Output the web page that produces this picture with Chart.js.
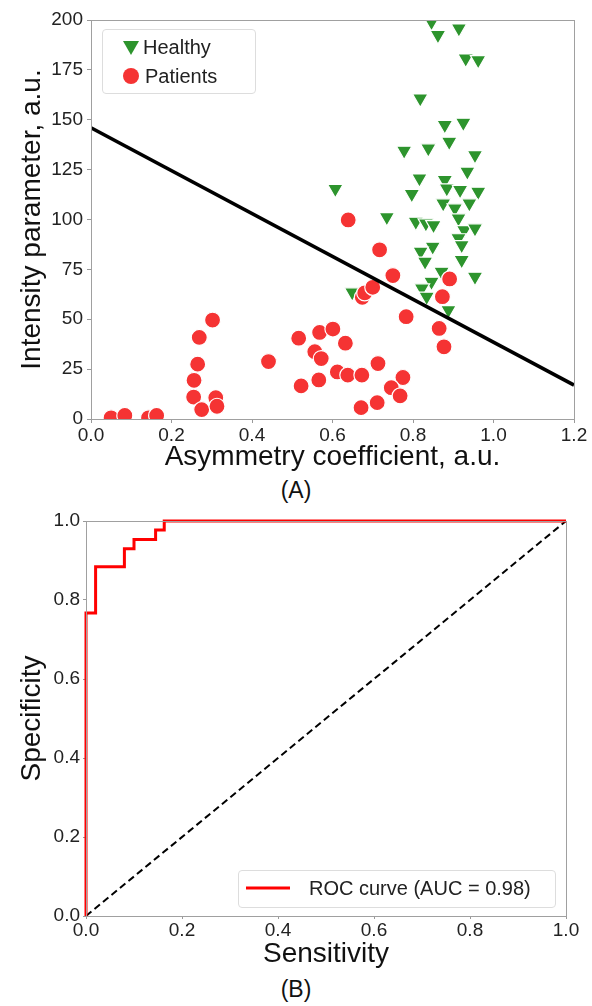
<!DOCTYPE html>
<html>
<head>
<meta charset="utf-8">
<script src="https://cdn.jsdelivr.net/npm/chart.js@4.4.0/dist/chart.umd.min.js"></script>
<style>
body { margin: 0; background: #fff; font-family: "Liberation Sans", Arial, sans-serif; }
#wrap { position: relative; width: 592px; height: 1006px; overflow: hidden; }
canvas { position: absolute; left: 0; }
.cap { position: absolute; left: 0; width: 592px; text-align: center; font-size: 23px; line-height: 28px; color: #111; }
.legend { position: absolute; border: 1px solid #ddd; border-radius: 4px; background: rgba(255,255,255,0.85); font-size: 20px; color: #222; }
.legend span { position: absolute; white-space: nowrap; line-height: 24px; }
.legend svg { position: absolute; }
</style>
</head>
<body>
<div id="wrap">
  <canvas id="scatterCanvas" width="592" height="474" style="top:0"></canvas>
  <div class="cap" style="top:476px">(A)</div>
  <canvas id="rocCanvas" width="592" height="471" style="top:500px"></canvas>
  <div class="cap" style="top:975px">(B)</div>

  <div class="legend" style="left:102px;top:29px;width:152px;height:63px">
    <svg width="18" height="16" style="left:19px;top:10px"><polygon points="1,1 17,1 9,15" fill="#2d942d"/></svg>
    <span style="left:40px;top:5px">Healthy</span>
    <svg width="18" height="18" style="left:19px;top:37px"><circle cx="9" cy="9" r="8" fill="#f53333"/></svg>
    <span style="left:42px;top:34px">Patients</span>
  </div>

  <div class="legend" style="left:238px;top:870px;width:316px;height:36px">
    <svg width="44" height="6" style="left:7px;top:14px"><line x1="0" y1="3" x2="44" y2="3" stroke="#ff0000" stroke-width="3"/></svg>
    <span style="left:70px;top:5px">ROC curve (AUC = 0.98)</span>
  </div>
</div>

<script>
// (A) scatter: asymmetry coefficient vs intensity parameter
const healthy = [
  [0.607, 115.4], [0.649, 63.5], [0.735, 101.2], [0.846, 199], [0.862, 192.5],
  [0.914, 195.8], [0.931, 180.7], [0.962, 179.9], [0.818, 160.7], [0.879, 147.4],
  [0.925, 148.5], [0.89, 139], [0.778, 134.5], [0.838, 135.7], [0.954, 132.3],
  [0.935, 124], [0.816, 120.6], [0.879, 119.8], [0.884, 115.6], [0.917, 114.8],
  [0.962, 113.9], [0.797, 112.8], [0.875, 108.1], [0.94, 108.1], [0.904, 105.6],
  [0.913, 100.6], [0.807, 98.9], [0.832, 98.1], [0.851, 97.2], [0.927, 94.7],
  [0.954, 95.6], [0.913, 90.6], [0.921, 87.2], [0.849, 86.4], [0.819, 83.9],
  [0.83, 78.9], [0.921, 79.7], [0.871, 73.8], [0.954, 71.3], [0.846, 68.8],
  [0.822, 65.5], [0.834, 61.3], [0.888, 54.6]
];
const patients = [
  [0.05, 0.6], [0.084, 1.8], [0.143, 0.6], [0.163, 1.8], [0.255, 11],
  [0.275, 4.7], [0.256, 19.4], [0.265, 27.5], [0.269, 40.9], [0.302, 49.6],
  [0.31, 10.7], [0.313, 6.4], [0.441, 28.8], [0.516, 40.5], [0.522, 16.6],
  [0.566, 19.6], [0.556, 33.7], [0.572, 30.3], [0.568, 43.4], [0.601, 45.1],
  [0.632, 38.0], [0.612, 23.6], [0.638, 22], [0.673, 22], [0.671, 5.7],
  [0.711, 8.2], [0.713, 27.8], [0.639, 99.8], [0.717, 84.8], [0.674, 61],
  [0.68, 63.2], [0.70, 66], [0.75, 71.9], [0.783, 51.3], [0.891, 70.2],
  [0.873, 61.3], [0.865, 45.4], [0.877, 36.2], [0.775, 20.8], [0.746, 15.7],
  [0.768, 11.6]
];
const boundary = [[0, 146], [1.2, 17]];

// (B) ROC curve
const rocX = [0, 0, 0.02, 0.02, 0.08, 0.08, 0.10, 0.10, 0.145, 0.145, 0.163, 0.163, 1];
const rocY = [0, 0.767, 0.767, 0.884, 0.884, 0.93, 0.93, 0.953, 0.953, 0.977, 0.977, 1, 1];
const chance = [[0, 0], [1, 1]];

const FONT = "'Liberation Sans', Arial, sans-serif";
const pts = arr => arr.map(p => ({ x: p[0], y: p[1] }));

// gray box round the plot area, like matplotlib spines
const framePlugin = {
  id: 'frame',
  afterDraw(chart) {
    const { ctx, chartArea: a } = chart;
    ctx.save();
    ctx.strokeStyle = '#a0a0a0';
    ctx.lineWidth = 1;
    ctx.strokeRect(Math.round(a.left) + 0.5, Math.round(a.top) + 0.5,
      Math.round(a.right - a.left), Math.round(a.bottom - a.top));
    ctx.restore();
  }
};

function axis(opts) {
  return {
    type: 'linear',
    min: opts.min, max: opts.max,
    afterFit: s => { if (opts.w) s.width = opts.w; if (opts.h) s.height = opts.h; },
    grid: { drawOnChartArea: false, drawTicks: true, tickLength: opts.tl, color: '#999' },
    border: { display: false },
    ticks: {
      stepSize: opts.step, padding: opts.pad, color: '#222',
      font: { family: FONT, size: 19 },
      callback: opts.fmt
    },
    title: { display: true, text: opts.title, color: '#111', padding: 0,
      font: { family: FONT, size: 28 } }
  };
}

new Chart(document.getElementById('scatterCanvas'), {
  type: 'scatter',
  data: {
    datasets: [
      { label: 'boundary', data: pts(boundary), showLine: true, borderColor: '#000',
        borderWidth: 3.5, pointRadius: 0, order: 0, clip: 0 },
      { label: 'Patients', data: pts(patients), backgroundColor: '#f53333',
        borderColor: '#fff', borderWidth: 1.2, pointRadius: 8, order: 1, clip: 0 },
      { label: 'Healthy', data: pts(healthy), pointStyle: 'triangle', rotation: 180,
        backgroundColor: '#2d942d', borderColor: '#fff', borderWidth: 1.2,
        pointRadius: 9, order: 2, clip: 0 }
    ]
  },
  options: {
    responsive: false, animation: false,
    layout: { padding: { top: 20, left: 15, right: 18, bottom: 0 } },
    plugins: { legend: { display: false }, tooltip: { enabled: false } },
    scales: {
      x: axis({ min: 0, max: 1.2, step: 0.2, tl: 4, pad: 1, h: 55,
        title: 'Asymmetry coefficient, a.u.', fmt: v => v.toFixed(1) }),
      y: axis({ min: 0, max: 200, step: 25, tl: 4, pad: 4, w: 76,
        title: 'Intensity parameter, a.u.', fmt: v => v })
    }
  },
  plugins: [framePlugin]
});

new Chart(document.getElementById('rocCanvas'), {
  type: 'scatter',
  data: {
    datasets: [
      { label: 'ROC curve (AUC = 0.98)', data: rocX.map((x, i) => ({ x: x, y: rocY[i] })),
        showLine: true, borderColor: '#ff0000', borderWidth: 3, pointRadius: 0, order: 0, clip: 2 },
      { label: 'chance', data: pts(chance), showLine: true, borderColor: '#000',
        borderWidth: 2, borderDash: [7, 4], pointRadius: 0, order: 1 }
    ]
  },
  options: {
    responsive: false, animation: false,
    layout: { padding: { top: 21, left: 15, right: 26, bottom: 0 } },
    plugins: { legend: { display: false }, tooltip: { enabled: false } },
    scales: {
      x: axis({ min: 0, max: 1, step: 0.2, tl: 3, pad: 0, h: 55,
        title: 'Sensitivity', fmt: v => v.toFixed(1) }),
      y: axis({ min: 0, max: 1, step: 0.2, tl: 3, pad: 3, w: 71,
        title: 'Specificity', fmt: v => v.toFixed(1) })
    }
  },
  plugins: [framePlugin]
});
</script>
</body>
</html>
